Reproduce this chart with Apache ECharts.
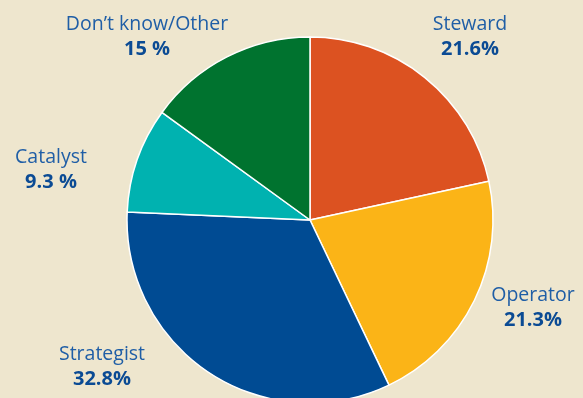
<!DOCTYPE html>
<html>
<head>
<meta charset="utf-8">
<script src="https://cdn.jsdelivr.net/npm/echarts@6/dist/echarts.min.js"></script>
<style>
  html, body { margin: 0; padding: 0; background: #EEE6CE; }
  #chart { width: 583px; height: 398px; }
</style>
</head>
<body>
<div id="chart"></div>
<script>
// data
const categories = ["Steward", "Operator", "Strategist", "Catalyst", "Don\u2019t know/Other"];
const values = [21.6, 21.3, 32.8, 9.3, 15];
const valueLabels = ["21.6%", "21.3%", "32.8%", "9.3 %", "15 %"];
const colors = ["#DC5221", "#FBB417", "#004B93", "#00B2B0", "#00732F"];

// where each label sits (centre of text block)
const labelPos = [[470, 37], [533, 308], [102, 367], [51, 170], [147, 37]];

const chart = echarts.init(document.getElementById("chart"));
chart.setOption({
  backgroundColor: "#EEE6CE",
  animation: false,
  series: [{
    type: "pie",
    center: [310, 220],
    radius: 183,
    startAngle: 90,
    clockwise: true,
    data: categories.map((c, i) => ({
      name: c,
      value: values[i],
      itemStyle: { color: colors[i] }
    })),
    itemStyle: { borderColor: "#ffffff", borderWidth: 1.5 },
    labelLine: { show: false },
    label: {
      show: true,
      position: "outside",
      overflow: "none",
      formatter: p => "{a|" + p.name + "}\n{b|" + valueLabels[p.dataIndex] + "}",
      rich: {
        a: { fontFamily: "Open Sans", fontSize: 19.5, color: "#1F5EA6", lineHeight: 25, align: "center" },
        b: { fontFamily: "Open Sans", fontSize: 20, fontWeight: "bold", color: "#0B4B94", lineHeight: 25, align: "center" }
      }
    },
    labelLayout: p => ({
      x: labelPos[p.dataIndex][0],
      y: labelPos[p.dataIndex][1],
      align: "center",
      verticalAlign: "middle",
      width: 200
    })
  }]
});
</script>
</body>
</html>
